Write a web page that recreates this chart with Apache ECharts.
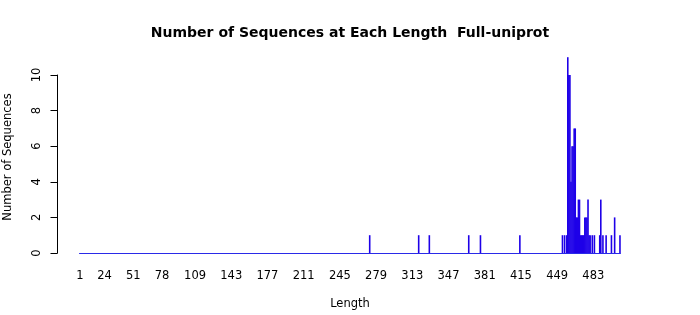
<!DOCTYPE html>
<html>
<head>
<meta charset="utf-8">
<script src="https://cdn.jsdelivr.net/npm/echarts@6/dist/echarts.min.js"></script>
<style>
html,body{margin:0;padding:0;background:#fff;overflow:hidden;}
#chart{width:700px;height:315px;}
</style>
</head>
<body>
<div id="chart"></div>
<script>
// ---- data ----
var maxLength = 508;
var lengths = [273, 319, 329, 366, 377, 414,
  454, 456, 458, 459, 460, 461, 462, 463, 464, 465, 466, 467, 468, 469, 470,
  471, 472, 473, 474, 475, 476, 477, 478, 479, 480, 482, 484,
  489, 490, 492, 495, 500, 503, 508];
var counts = [1, 1, 1, 1, 1, 1,
  1, 1, 1, 11, 10, 10, 4, 6, 6, 7, 7, 2, 2, 3, 3,
  1, 1, 1, 1, 2, 2, 2, 3, 1, 1, 1, 1,
  1, 3, 1, 1, 1, 2, 1];
var xTickLabels = [1, 24, 51, 78, 109, 143, 177, 211, 245, 279, 313, 347, 381, 415, 449, 483];
var yTicks = [0, 2, 4, 6, 8, 10];
var titleText = 'Number of Sequences at Each Length  Full-uniprot';
var xName = 'Length';
var yName = 'Number of Sequences';

// ---- build category table ----
var categories = [];
var values = [];
for (var i = 1; i <= maxLength; i++) { categories.push(String(i)); values.push(0); }
for (var k = 0; k < lengths.length; k++) { values[lengths[k] - 1] = counts[k]; }
var tickSet = {};
xTickLabels.forEach(function (t) { tickSet[String(t)] = true; });

var FONT = 'DejaVu Sans';
var chart = echarts.init(document.getElementById('chart'), null, {renderer: 'canvas', width: 700, height: 315});
chart.setOption({
  animation: false,
  backgroundColor: '#ffffff',
  title: {
    text: titleText,
    left: 'center',
    top: 21,
    textStyle: {fontFamily: FONT, fontSize: 14, fontWeight: 'bold', color: '#000'}
  },
  grid: {left: 79.5, right: 79.5, top: 75, bottom: 60, containLabel: false},
  xAxis: {
    type: 'category',
    data: categories,
    boundaryGap: true,
    name: xName,
    nameLocation: 'middle',
    nameGap: 45,
    nameTextStyle: {fontFamily: FONT, fontSize: 11.5, color: '#000'},
    axisLine: {show: true, lineStyle: {color: '#2a2ae8', width: 1}},
    axisTick: {show: false},
    axisLabel: {
      interval: function (idx, val) { return !!tickSet[val]; },
      hideOverlap: false,
      margin: 17,
      fontFamily: FONT, fontSize: 11.5, color: '#000'
    },
    splitLine: {show: false}
  },
  yAxis: {
    type: 'value',
    min: yTicks[0],
    max: yTicks[yTicks.length - 1],
    interval: yTicks[1] - yTicks[0],
    offset: 22,
    axisLine: {show: true, lineStyle: {color: '#000', width: 1}},
    axisTick: {show: true, length: 7, lineStyle: {color: '#000'}},
    axisLabel: {rotate: 90, margin: 14, fontFamily: FONT, fontSize: 11.5, color: '#000'},
    splitLine: {show: false}
  },
  graphic: [{
    type: 'text',
    x: 8.5, y: 157,
    rotation: Math.PI / 2,
    style: {text: yName, font: '11.5px "DejaVu Sans"', fill: '#000', textAlign: 'center', textVerticalAlign: 'middle'}
  }],
  series: [{
    type: 'bar',
    data: values,
    barWidth: 1.6,
    clip: false,
    itemStyle: {color: '#1e00e8'},
    emphasis: {disabled: true}
  }]
});
</script>
</body>
</html>
